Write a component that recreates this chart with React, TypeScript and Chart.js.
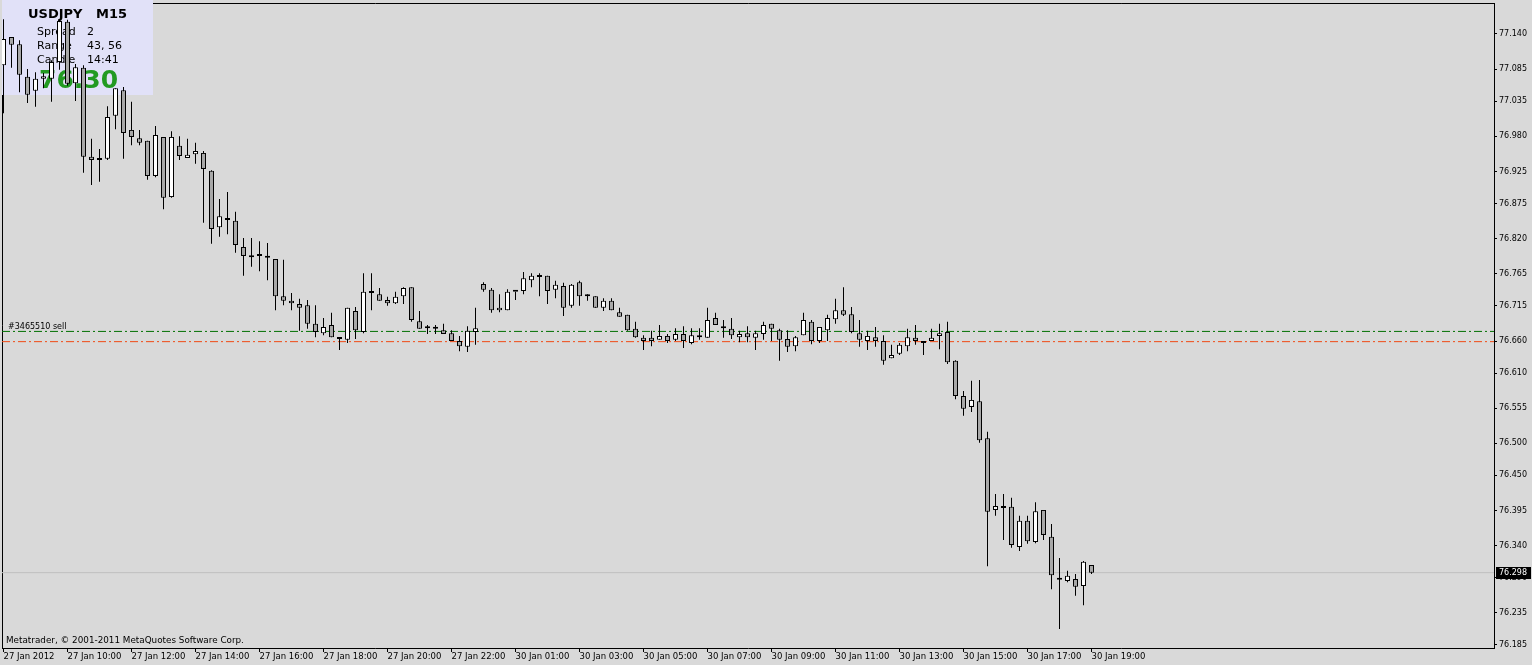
import React, { useEffect, useRef } from "react";
import { Chart, registerables } from "chart.js";

Chart.register(...registerables);

// ---- data (USDJPY M15, 27 Jan 2012 08:00 onwards) ----
const OPEN = [
  77.091, 77.135, 77.124, 77.073, 77.051, 77.070, 77.070, 77.096, 77.159, 77.063,
  77.087, 76.948, 76.946, 76.945, 77.012, 77.052, 76.990, 76.977, 76.973, 76.918,
  76.979, 76.885, 76.965, 76.946, 76.952, 76.954, 76.926, 76.838, 76.849, 76.848,
  76.807, 76.791, 76.793, 76.791, 76.788, 76.730, 76.723, 76.718, 76.716, 76.687,
  76.672, 76.685, 76.665, 76.662, 76.707, 76.674, 76.735, 76.733, 76.724, 76.719,
  76.730, 76.744, 76.691, 76.680, 76.679, 76.677, 76.672, 76.660, 76.651, 76.674,
  76.749, 76.740, 76.708, 76.708, 76.737, 76.738, 76.755, 76.762, 76.762, 76.740,
  76.746, 76.715, 76.752, 76.730, 76.730, 76.712, 76.723, 76.705, 76.701, 76.679,
  76.665, 76.665, 76.662, 76.668, 76.662, 76.671, 76.657, 76.668, 76.665, 76.696,
  76.683, 76.679, 76.666, 76.672, 76.665, 76.671, 76.687, 76.677, 76.663, 76.652,
  76.669, 76.690, 76.660, 76.677, 76.694, 76.708, 76.702, 76.672, 76.660, 76.666,
  76.660, 76.633, 76.640, 76.652, 76.665, 76.657, 76.660, 76.668, 76.674, 76.629,
  76.574, 76.557, 76.566, 76.508, 76.396, 76.401, 76.401, 76.338, 76.379, 76.346,
  76.396, 76.354, 76.290, 76.285, 76.288, 76.277, 76.310,
];
const HIGH = [
  77.163, 77.135, 77.130, 77.085, 77.080, 77.079, 77.099, 77.163, 77.162, 77.093,
  77.091, 76.976, 76.960, 77.027, 77.055, 77.057, 77.034, 76.990, 76.973, 76.996,
  76.979, 76.988, 76.980, 76.976, 76.970, 76.957, 76.927, 76.882, 76.893, 76.862,
  76.821, 76.821, 76.816, 76.813, 76.788, 76.787, 76.735, 76.726, 76.724, 76.716,
  76.696, 76.704, 76.665, 76.712, 76.713, 76.766, 76.766, 76.743, 76.729, 76.737,
  76.744, 76.744, 76.707, 76.685, 76.685, 76.687, 76.677, 76.668, 76.683, 76.712,
  76.752, 76.743, 76.733, 76.741, 76.737, 76.768, 76.766, 76.766, 76.762, 76.754,
  76.751, 76.749, 76.754, 76.733, 76.730, 76.727, 76.727, 76.712, 76.701, 76.690,
  76.669, 76.676, 76.685, 76.671, 76.680, 76.683, 76.680, 76.680, 76.712, 76.704,
  76.693, 76.696, 76.676, 76.683, 76.676, 76.690, 76.687, 76.679, 76.677, 76.668,
  76.704, 76.693, 76.682, 76.701, 76.726, 76.744, 76.713, 76.693, 76.676, 76.682,
  76.669, 76.654, 76.657, 76.679, 76.685, 76.660, 76.679, 76.687, 76.690, 76.630,
  76.582, 76.598, 76.599, 76.518, 76.421, 76.421, 76.415, 76.387, 76.387, 76.408,
  76.396, 76.374, 76.321, 76.301, 76.296, 76.316, 76.310,
];
const LOW = [
  77.016, 77.087, 77.049, 77.032, 77.026, 77.055, 77.034, 77.084, 77.059, 77.035,
  76.923, 76.904, 76.909, 76.943, 76.991, 76.945, 76.966, 76.966, 76.912, 76.916,
  76.866, 76.884, 76.943, 76.946, 76.937, 76.845, 76.812, 76.823, 76.827, 76.798,
  76.762, 76.776, 76.769, 76.755, 76.708, 76.716, 76.708, 76.676, 76.679, 76.666,
  76.669, 76.666, 76.646, 76.657, 76.663, 76.672, 76.708, 76.723, 76.715, 76.718,
  76.718, 76.690, 76.679, 76.671, 76.671, 76.671, 76.660, 76.644, 76.643, 76.654,
  76.737, 76.704, 76.705, 76.708, 76.724, 76.733, 76.744, 76.730, 76.718, 76.727,
  76.699, 76.712, 76.715, 76.723, 76.712, 76.707, 76.708, 76.698, 76.676, 76.665,
  76.646, 76.652, 76.662, 76.657, 76.660, 76.649, 76.655, 76.662, 76.665, 76.685,
  76.665, 76.663, 76.658, 76.658, 76.646, 76.662, 76.660, 76.629, 76.643, 76.644,
  76.669, 76.655, 76.657, 76.660, 76.687, 76.699, 76.672, 76.651, 76.646, 76.651,
  76.623, 76.633, 76.638, 76.644, 76.654, 76.638, 76.660, 76.647, 76.624, 76.569,
  76.543, 76.549, 76.501, 76.308, 76.387, 76.349, 76.337, 76.332, 76.343, 76.344,
  76.349, 76.272, 76.210, 76.283, 76.262, 76.247, 76.296,
];
const CLOSE = [
  77.132, 77.123, 77.076, 77.045, 77.070, 77.074, 77.096, 77.160, 77.062, 77.088,
  76.948, 76.943, 76.943, 77.010, 77.055, 76.985, 76.979, 76.970, 76.918, 76.982,
  76.884, 76.979, 76.949, 76.951, 76.957, 76.929, 76.835, 76.855, 76.852, 76.810,
  76.793, 76.794, 76.793, 76.790, 76.730, 76.723, 76.719, 76.712, 76.687, 76.674,
  76.682, 76.666, 76.663, 76.712, 76.677, 76.737, 76.735, 76.723, 76.719, 76.729,
  76.743, 76.693, 76.679, 76.680, 76.679, 76.671, 76.660, 76.652, 76.676, 76.680,
  76.740, 76.708, 76.712, 76.737, 76.737, 76.758, 76.762, 76.760, 76.738, 76.748,
  76.712, 76.748, 76.730, 76.730, 76.712, 76.723, 76.708, 76.698, 76.677, 76.666,
  76.660, 76.660, 76.668, 76.660, 76.671, 76.660, 76.669, 76.666, 76.693, 76.685,
  76.680, 76.669, 76.671, 76.666, 76.672, 76.685, 76.679, 76.662, 76.651, 76.666,
  76.693, 76.660, 76.682, 76.696, 76.708, 76.701, 76.674, 76.662, 76.668, 76.660,
  76.629, 76.638, 76.654, 76.666, 76.660, 76.657, 76.665, 76.672, 76.627, 76.574,
  76.554, 76.568, 76.505, 76.393, 76.402, 76.399, 76.341, 76.379, 76.347, 76.394,
  76.357, 76.294, 76.287, 76.293, 76.276, 76.315, 76.298,
];

const X_TICK_INDEX = [0, 8, 16, 24, 32, 40, 48, 56, 64, 72, 80, 88, 96, 104, 112, 120, 128, 136];
const X_TICK_LABELS = [
  "27 Jan 2012", "27 Jan 10:00", "27 Jan 12:00", "27 Jan 14:00", "27 Jan 16:00",
  "27 Jan 18:00", "27 Jan 20:00", "27 Jan 22:00", "30 Jan 01:00", "30 Jan 03:00",
  "30 Jan 05:00", "30 Jan 07:00", "30 Jan 09:00", "30 Jan 11:00", "30 Jan 13:00",
  "30 Jan 15:00", "30 Jan 17:00", "30 Jan 19:00",
];
const Y_TICKS = [
  77.14, 77.085, 77.035, 76.98, 76.925, 76.875, 76.82, 76.765, 76.715, 76.66,
  76.61, 76.555, 76.5, 76.45, 76.395, 76.34, 76.29, 76.235, 76.185,
];

const BID = 76.298;
const ORDER_OPEN = 76.675;
const ORDER_STOP = 76.659;
const ORDER_LABEL = "#3465510 sell";
const SYMBOL = "USDJPY";
const PERIOD = "M15";
const INFO_NAMES = ["Spread", "Range", "Candle"];
const INFO_VALUES = ["2", "43, 56", "14:41"];
const BIG_PRICE = "76.30";
const COPYRIGHT = "Metatrader, \u00A9 2001-2011 MetaQuotes Software Corp.";

// ---- view window ----
const X_MIN = -0.1875;
const X_MAX = 186.3125;
const Y_MIN = 76.1802;
const Y_MAX = 77.1883;

const BG = "#d9d9d9";
const BOX_BG = "#e1e1f8";
const BEAR = "#a8a8a8";
const BULL = "#ffffff";
const FONT = "DejaVu Sans";

export default function App() {
  const ref = useRef<HTMLCanvasElement>(null);

  useEffect(() => {
    const canvas = ref.current;
    if (!canvas) return;
    const idx = OPEN.map((_, i) => i);
    const bodyColors = idx.map((i) =>
      CLOSE[i] > OPEN[i] ? BULL : CLOSE[i] < OPEN[i] ? BEAR : "#000000"
    );

    const decor = {
      id: "mtDecor",
      beforeDraw(chart: any) {
        const { ctx, width, height } = chart;
        ctx.save();
        ctx.fillStyle = BG;
        ctx.fillRect(0, 0, width, height);
        ctx.restore();
      },
      beforeDatasetsDraw(chart: any) {
        const { ctx, chartArea: a } = chart;
        ctx.save();
        ctx.strokeStyle = "#000";
        ctx.lineWidth = 1;
        ctx.beginPath();
        ctx.moveTo(a.left + 0.5, a.bottom);
        ctx.lineTo(a.left + 0.5, a.top + 0.5);
        ctx.lineTo(a.right, a.top + 0.5);
        ctx.stroke();

        // info panel
        ctx.fillStyle = BOX_BG;
        ctx.fillRect(a.left, 0, 151, 95);
        ctx.fillStyle = "#000";
        ctx.textBaseline = "alphabetic";
        ctx.textAlign = "left";
        ctx.font = `bold 13px "${FONT}"`;
        ctx.fillText(SYMBOL, 28, 18);
        ctx.fillText(PERIOD, 96, 18);
        ctx.font = `11px "${FONT}"`;
        INFO_NAMES.forEach((name, k) => {
          ctx.fillText(name, 37, 35 + k * 14);
          ctx.fillText(INFO_VALUES[k], 87, 35 + k * 14);
        });
        ctx.font = `bold 25px "${FONT}"`;
        ctx.fillStyle = "#229a22";
        ctx.fillText(BIG_PRICE, 39, 88);

        ctx.fillStyle = "#000";
        ctx.font = `8px "${FONT}"`;
        const yOrder = chart.scales.y.getPixelForValue(ORDER_OPEN);
        ctx.fillText(ORDER_LABEL, 8, yOrder - 2);
        ctx.font = `8.8px "${FONT}"`;
        ctx.fillText(COPYRIGHT, 6, a.bottom - 5);
        ctx.restore();
      },
      afterDraw(chart: any) {
        const { ctx, chartArea: a } = chart;
        const y = chart.scales.y.getPixelForValue(BID);
        ctx.save();
        ctx.fillStyle = "#000";
        ctx.fillRect(a.right + 2, Math.round(y) - 6, 35, 12);
        ctx.fillStyle = "#fff";
        ctx.font = `8px "${FONT}"`;
        ctx.textBaseline = "middle";
        ctx.textAlign = "left";
        ctx.fillText(BID.toFixed(3), a.right + 5, Math.round(y));
        ctx.restore();
      },
    };

    const hline = (v: number, color: string, dash: number[]) => ({
      type: "line" as const,
      data: [
        { x: X_MIN, y: v },
        { x: X_MAX, y: v },
      ],
      borderColor: color,
      borderWidth: 1,
      borderDash: dash,
      pointRadius: 0,
      tension: 0,
      clip: 0,
      order: 5,
    });

    const zeroPad = (s: any) => {
      s.paddingLeft = 0;
      s.paddingRight = 0;
      s.paddingTop = 0;
      s.paddingBottom = 0;
    };

    const chart = new Chart(canvas, {
      type: "bar",
      data: {
        datasets: [
          hline(BID, "#c0c0c0", []),
          hline(ORDER_OPEN, "#007000", [8, 3, 2, 3]),
          hline(ORDER_STOP, "#f04a14", [8, 3, 2, 3]),
          {
            type: "bar",
            data: idx.map((i) => ({ x: i, y: [LOW[i], HIGH[i]] })),
            backgroundColor: "#000000",
            borderWidth: 0,
            barThickness: 1,
            grouped: false,
            inflateAmount: 0,
            clip: 0,
            order: 2,
          } as any,
          {
            type: "bar",
            data: idx.map((i) => ({ x: i, y: [OPEN[i], CLOSE[i]] })),
            backgroundColor: bodyColors,
            borderColor: "#000000",
            borderWidth: 1,
            borderSkipped: false,
            barThickness: 5,
            minBarLength: 2,
            grouped: false,
            inflateAmount: 0,
            clip: 0,
            order: 1,
          } as any,
        ],
      },
      options: {
        responsive: false,
        animation: false,
        devicePixelRatio: 1,
        events: [],
        layout: { padding: { left: 2, top: 3, right: 0, bottom: 0 } },
        plugins: {
          legend: { display: false },
          tooltip: { enabled: false },
        },
        scales: {
          x: {
            type: "linear",
            min: X_MIN,
            max: X_MAX,
            offset: false,
            grid: {
              offset: false,
              drawOnChartArea: false,
              drawTicks: true,
              tickLength: 4,
              color: "#000",
            },
            border: { display: true, color: "#000", width: 1 },
            ticks: {
              autoSkip: false,
              maxRotation: 0,
              minRotation: 0,
              align: "start",
              padding: 0,
              color: "#000",
              font: { family: FONT, size: 8.5 },
              callback: (v: any) => {
                const k = X_TICK_INDEX.indexOf(Number(v));
                return k >= 0 ? X_TICK_LABELS[k] : "";
              },
            },
            afterBuildTicks: (s: any) => {
              s.ticks = X_TICK_INDEX.map((v) => ({ value: v }));
            },
            afterFit: (s: any) => {
              s.height = 17;
              zeroPad(s);
            },
          },
          y: {
            type: "linear",
            position: "right",
            min: Y_MIN,
            max: Y_MAX,
            grid: {
              drawOnChartArea: false,
              drawTicks: true,
              tickLength: 3,
              color: "#000",
            },
            border: { display: true, color: "#000", width: 1 },
            ticks: {
              padding: 2,
              color: "#000",
              font: { family: FONT, size: 8 },
              callback: (v: any) => Number(v).toFixed(3),
            },
            afterBuildTicks: (s: any) => {
              s.ticks = Y_TICKS.map((v) => ({ value: v }));
            },
            afterFit: (s: any) => {
              s.width = 38;
              zeroPad(s);
            },
          },
        },
      } as any,
      plugins: [decor],
    });

    return () => chart.destroy();
  }, []);

  return (
    <div style={{ position: "fixed", left: 0, top: 0, width: 1532, height: 665 }}>
      <canvas ref={ref} width={1532} height={665} style={{ display: "block" }} />
    </div>
  );
}
